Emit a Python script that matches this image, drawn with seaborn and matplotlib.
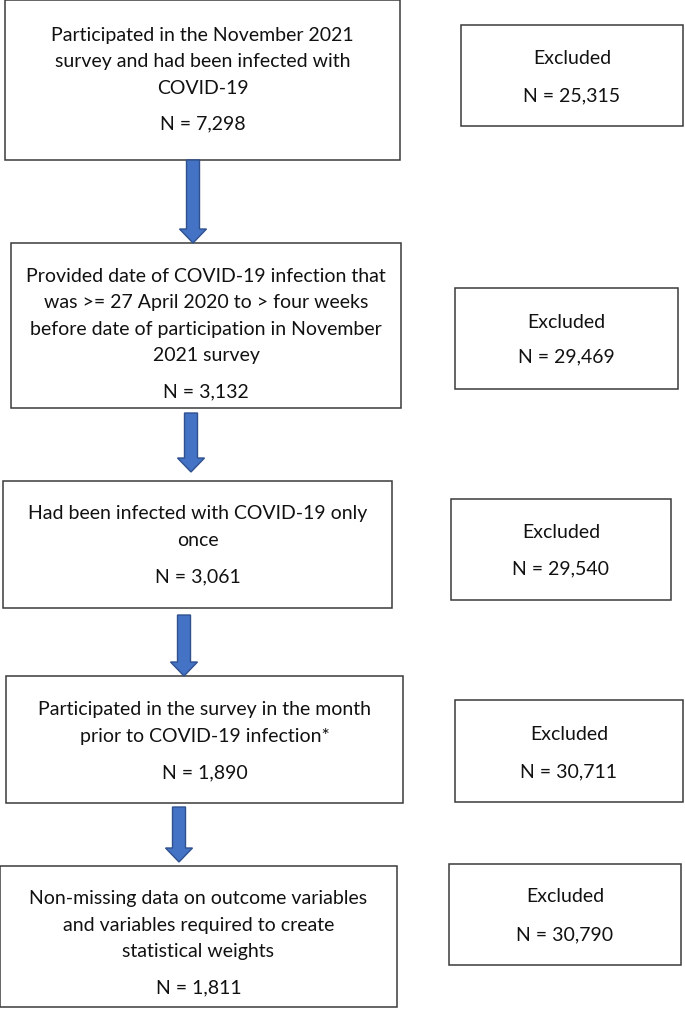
import matplotlib
matplotlib.use("Agg")
import matplotlib.pyplot as plt
import seaborn as sns
from matplotlib.patches import Rectangle, FancyArrow

# flowchart content
steps = [
    "Participated in the November 2021\nsurvey and had been infected with\nCOVID-19",
    "Provided date of COVID-19 infection that\nwas >= 27 April 2020 to > four weeks\nbefore date of participation in November\n2021 survey",
    "Had been infected with COVID-19 only\nonce",
    "Participated in the survey in the month\nprior to COVID-19 infection*",
    "Non-missing data on outcome variables\nand variables required to create\nstatistical weights",
]
included_n = [7298, 3132, 3061, 1890, 1811]
excluded_n = [25315, 29469, 29540, 30711, 30790]
excluded_label = "Excluded"

# layout (pixels, y from top): left box, right box, arrow below each left box
main_boxes = [(5, 0, 395, 160), (11, 243, 390, 165), (3, 481, 389, 127),
              (6, 676, 397, 127), (0, 866, 397, 141)]
desc_y = [62, 316, 527, 723, 925]
n_y = [124, 392, 577, 773, 988]
excl_boxes = [(461, 25, 222, 101), (455, 288, 223, 101), (451, 499, 220, 101),
              (455, 700, 228, 102), (449, 864, 232, 101)]
excl_txt_y = [(58, 96), (322, 357), (533, 569), (734, 772), (897, 935)]
arrows = [(193, 160, 243), (191, 413, 472), (184, 615, 676), (179, 807, 862)]

sns.set_style("white")
plt.rcParams['font.family'] = ['Lato', 'DejaVu Sans']

fig = plt.figure(figsize=(6.85, 10.09), dpi=100)
ax = fig.add_axes([0, 0, 1, 1])
ax.set_xlim(0, 685)
ax.set_ylim(1009, 0)
ax.axis("off")

edge = "#3a3a3a"
fs = 14

for i, (x, y, w, h) in enumerate(main_boxes):
    ax.add_patch(Rectangle((x, y), w, h, fill=False, ec=edge, lw=1.1))
    cx = x + w / 2
    ax.text(cx, desc_y[i], steps[i], ha="center", va="center", fontsize=fs,
            linespacing=1.65, color="#111111")
    ax.text(cx, n_y[i], f"N = {included_n[i]:,}", ha="center", va="center",
            fontsize=fs, color="#111111")

for i, (x, y, w, h) in enumerate(excl_boxes):
    ax.add_patch(Rectangle((x, y), w, h, fill=False, ec=edge, lw=1.1))
    cx = x + w / 2
    ax.text(cx, excl_txt_y[i][0], excluded_label, ha="center", va="center",
            fontsize=fs, color="#111111")
    ax.text(cx, excl_txt_y[i][1], f"N = {excluded_n[i]:,}", ha="center",
            va="center", fontsize=fs, color="#111111")

for cx, y0, y1 in arrows:
    ax.add_patch(FancyArrow(cx, y0, 0, y1 - y0, width=13, head_width=27,
                            head_length=14, length_includes_head=True,
                            fc="#4472C4", ec="#2F528F", lw=1))

fig.savefig("out.png", dpi=100)
